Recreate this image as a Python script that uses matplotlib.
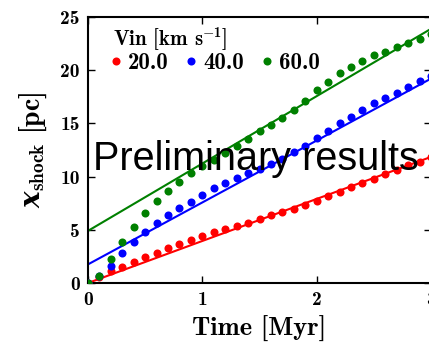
import numpy as np
import matplotlib
matplotlib.use("Agg")
import matplotlib.pyplot as plt

# Shock position vs time for three inflow velocities
time = [0.0, 0.1, 0.2, 0.3, 0.4, 0.5, 0.6, 0.7, 0.8, 0.9, 1.0,
        1.1, 1.2, 1.3, 1.4, 1.5, 1.6, 1.7, 1.8, 1.9, 2.0,
        2.1, 2.2, 2.3, 2.4, 2.5, 2.6, 2.7, 2.8, 2.9, 3.0]

x_v20 = [0.0, 0.6, 1.16, 1.55, 2.0, 2.41, 2.85, 3.26, 3.67, 4.04, 4.45,
         4.8, 5.1, 5.38, 5.68, 6.0, 6.37, 6.67, 6.98, 7.32, 7.75,
         8.18, 8.58, 9.0, 9.37, 9.81, 10.2, 10.62, 11.05, 11.4, 11.8]
x_v40 = [0.0, 0.65, 1.63, 2.79, 3.85, 4.76, 5.67, 6.42, 7.05, 7.64, 8.3,
         8.95, 9.4, 9.85, 10.3, 10.75, 11.2, 11.7, 12.3, 12.9, 13.6,
         14.3, 15.0, 15.6, 16.3, 16.9, 17.4, 17.9, 18.45, 19.0, 19.5]
x_v60 = [0.0, 0.69, 2.22, 3.85, 5.3, 6.6, 7.68, 8.6, 9.48, 10.3, 10.95,
         11.6, 12.25, 12.9, 13.55, 14.25, 14.85, 15.47, 16.26, 17.1, 18.1,
         18.9, 19.7, 20.27, 20.9, 21.4, 21.75, 22.2, 22.6, 22.95, 23.4]

# linear fits: (intercept, slope)
fit_v20 = (0.0, 3.95)
fit_v40 = (1.75, 5.82)
fit_v60 = (4.9, 6.33)

labels = ["20.0", "40.0", "60.0"]
colors = ["red", "blue", "green"]

plt.rcParams["font.family"] = ["cmb10", "DejaVu Serif"]
plt.rcParams["mathtext.fontset"] = "custom"
plt.rcParams["mathtext.rm"] = "cmb10"
plt.rcParams["mathtext.bf"] = "cmb10"
plt.rcParams["mathtext.it"] = "DejaVu Serif:italic:bold"
plt.rcParams["axes.unicode_minus"] = False

fig = plt.figure(figsize=(4.29, 3.42), dpi=100)
ax = fig.add_axes([88 / 429, 59 / 342, 343 / 429, 266 / 342])

series = [x_v20, x_v40, x_v60]
fits = [fit_v20, fit_v40, fit_v60]
line_t = np.array([0.0, 3.0])
for vals, fit, col, lab in zip(series, fits, colors, labels):
    ax.plot(line_t, fit[0] + fit[1] * line_t, color=col, lw=1.5, zorder=2)
    ax.plot(time, vals, "o", color=col, ms=5.8, mec="none", label=lab, zorder=3)

ax.set_xlim(0, 3)
ax.set_ylim(0, 25)
ax.set_xticks([0, 1, 2, 3])
ax.set_yticks([0, 5, 10, 15, 20, 25])
ax.tick_params(direction="in", top=True, right=True, length=5, width=1,
               labelsize=14, pad=6)
for s in ax.spines.values():
    s.set_linewidth(1.5)

ax.set_xlabel("Time [Myr]", fontsize=19, labelpad=5)
ax.set_ylabel(r"$x_{\mathrm{shock}}$ [pc]", fontsize=20, labelpad=8)

# legend title drawn as plain text so it lines up with the first marker
ax.text(0.073, 0.89, r"Vin [km s$^{-1}$]", fontsize=15,
        transform=ax.transAxes, ha="left", va="baseline")
ax.legend(loc="center left", bbox_to_anchor=(0.0612, 0.826),
          ncol=3, frameon=False, fontsize=16.5,
          handlelength=0.6, handletextpad=0.22, columnspacing=0.7,
          borderpad=0.0, borderaxespad=0.0)

ax.text(1.47, 10.6, "Preliminary results", fontsize=28.5,
        family="Liberation Sans", ha="center", va="baseline", zorder=5)

fig.savefig("out.png", dpi=100)
